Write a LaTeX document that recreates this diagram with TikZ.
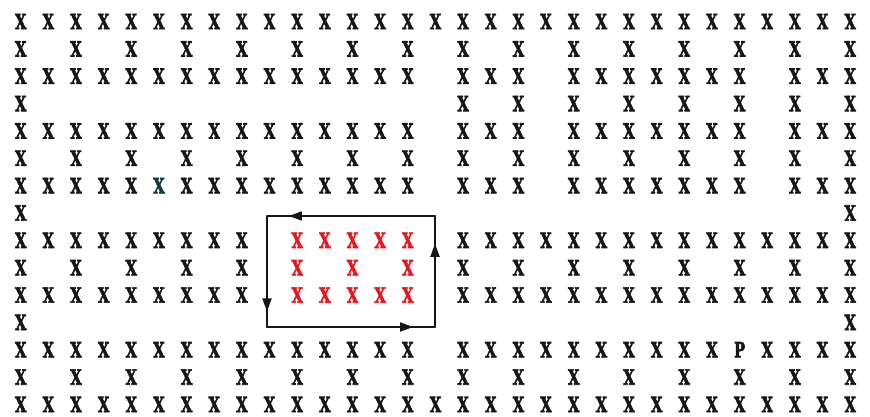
\documentclass[tikz,border=0pt]{standalone}
\usepackage{fontspec}
\usetikzlibrary{arrows.meta, decorations.markings}
\newfontfamily\typerfont{DejaVu Serif}[UprightFont={* Bold}, FakeBold=3]
\definecolor{inkblack}{RGB}{22,22,22}
\definecolor{inkred}{RGB}{232,22,30}
\definecolor{inkteal}{RGB}{18,58,56}
\newcommand{\narrowX}[1]{\scalebox{0.7}[1]{#1}}

\begin{document}
\begin{tikzpicture}[x=1pt, y=1pt,
  cross/.style={inner sep=0pt, text=inkblack,
    font=\typerfont\bfseries\fontsize{21}{21}\selectfont},
  redcross/.style={cross, text=inkred},
  loopside/.style={line width=1.8pt, draw=inkblack, line cap=round, postaction={decorate}},
  tip at/.style={decoration={markings,
    mark=at position #1 with {\arrow{Triangle[length=13pt, width=9pt]}}}}
]
  \fill[white] (0,0) rectangle (870,-416);
  \useasboundingbox (0,0) rectangle (870,-416);

  % black crosses, row by row
  \foreach \r/\cols in {
      0/{0,1,...,30},
      1/{0,2,...,30},
      2/{0,1,...,14,16,17,18,20,21,...,26,28,29,30},
      3/{0,16,18,...,30},
      4/{0,1,...,14,16,17,18,20,21,...,26,28,29,30},
      5/{0,2,...,30},
      6/{0,1,2,3,4,6,7,...,14,16,17,18,20,21,...,26,28,29,30},
      7/{0,30},
      8/{0,1,...,8,16,17,...,30},
      9/{0,2,4,6,8,16,18,...,30},
      10/{0,1,...,8,16,17,...,30},
      11/{0,30},
      12/{0,1,...,14,16,17,...,25,27,28,29,30},
      13/{0,2,...,30},
      14/{0,1,...,30}}
    \foreach \c in \cols
      \node[cross] (k-\r-\c) at ({20.7+27.65*\c}, {-21.5-27.35*\r}) {\narrowX{X}};

  \node[cross, text=inkteal] (k-6-5) at ({20.7+27.65*5}, {-21.5-27.35*6}) {\narrowX{X}};
  \node[cross] (k-12-26) at ({20.7+27.65*26}, {-21.5-27.35*12}) {\narrowX{P}};

  % red block inside the loop
  \foreach \r/\cols in {8/{10,11,...,14}, 9/{10,12,14}, 10/{10,11,...,14}}
    \foreach \c in \cols
      \node[redcross] (k-\r-\c) at ({20.7+27.65*\c}, {-21.5-27.35*\r}) {\narrowX{X}};

  % circulation loop
  \coordinate (tl) at (267,-216);
  \coordinate (tr) at (435,-216);
  \coordinate (bl) at (267,-327);
  \coordinate (br) at (435,-327);
  \draw[loopside, tip at=0.87] (tr) -- (tl);
  \draw[loopside, tip at=0.86] (tl) -- (bl);
  \draw[loopside, tip at=0.87] (bl) -- (br);
  \draw[loopside, tip at=0.75] (br) -- (tr);
\end{tikzpicture}
\end{document}
